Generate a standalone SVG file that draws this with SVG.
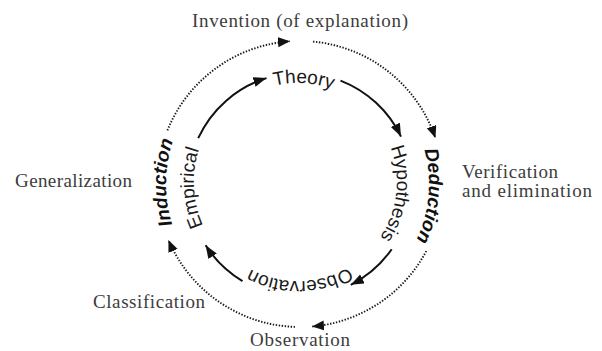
<svg xmlns="http://www.w3.org/2000/svg" width="602" height="351" viewBox="0 0 602 351">
<style>
.lbl{font-family:"Liberation Serif","Times New Roman",serif;font-size:19px;fill:#3c3c3c}
.inner{font-family:"Liberation Sans",Arial,sans-serif;font-size:19px;fill:#1a1a1a}
.outer{font-family:"Liberation Sans",Arial,sans-serif;font-size:19px;font-weight:bold;font-style:italic;fill:#111}
.solid{fill:none;stroke:#111;stroke-width:2}
.dot{fill:none;stroke:#1a1a1a;stroke-width:1.9;stroke-dasharray:1.4 1.6}
</style>
<defs>
<marker id="ah" markerUnits="userSpaceOnUse" markerWidth="14" markerHeight="12" refX="13" refY="5" orient="auto">
<path d="M0,0 L13,5 L0,10 Z" fill="#111"/>
</marker>
<marker id="ahd" markerUnits="userSpaceOnUse" markerWidth="14" markerHeight="12" refX="12" refY="5" orient="auto">
<path d="M0,0 L12,5 L0,10 Z" fill="#111"/>
</marker>
<path id="pTheory" d="M201.6,159.4 A99,99 0 0 1 396.3,170.3"/>
<path id="pHyp" d="M326.5,87.2 A99,99 0 0 1 303.7,280.8"/>
<path id="pObs" d="M395.8,197.5 A99,99 0 0 1 200.8,200.9"/>
<path id="pEmp" d="M285.7,285.3 A104,104 0 0 1 274.2,80.7"/>
<path id="pInd" d="M275.1,315.7 A134,134 0 0 1 278.3,51.8"/>
<path id="pDed" d="M334.0,59.6 A129,129 0 0 1 310.6,312.6"/>
</defs>

<g id="connectors">
<path class="solid" d="M198.2,138.2 A112,112 0 0 1 266.5,78.1" marker-end="url(#ah)"/>
<path class="solid" d="M340.5,80.6 A112,112 0 0 1 401.0,136.6" marker-end="url(#ah)"/>
<path class="solid" d="M391.7,249.2 A112,112 0 0 1 350.8,284.8" marker-end="url(#ah)"/>
<path class="solid" d="M242.5,281.1 A112,112 0 0 1 205.6,245.3" marker-end="url(#ah)"/>
<path class="dot" d="M167.4,130.4 A143,143 0 0 1 290.0,41.3" marker-end="url(#ahd)"/>
<path class="dot" d="M313.0,41.6 A143,143 0 0 1 435.4,137.9" marker-end="url(#ahd)"/>
<path class="dot" d="M426.3,251.1 A143,143 0 0 1 312.0,326.5" marker-end="url(#ahd)"/>
<path class="dot" d="M295.0,326.9 A143,143 0 0 1 168.4,239.9" marker-end="url(#ahd)"/>
</g>

<g id="theory"><text class="inner"><textPath href="#pTheory" startOffset="50%" text-anchor="middle">Theory</textPath></text></g>
<g id="hypothesis"><text class="inner"><textPath href="#pHyp" startOffset="50%" text-anchor="middle">Hypothesis</textPath></text></g>
<g id="observation-inner"><text class="inner"><textPath href="#pObs" startOffset="50%" text-anchor="middle">Observation</textPath></text></g>
<g id="empirical"><text class="inner"><textPath href="#pEmp" startOffset="50%" text-anchor="middle">Empirical</textPath></text></g>
<g id="induction"><text class="outer"><textPath href="#pInd" startOffset="50%" text-anchor="middle">Induction</textPath></text></g>
<g id="deduction"><text class="outer"><textPath href="#pDed" startOffset="50%" text-anchor="middle">Deduction</textPath></text></g>

<g id="invention"><text class="lbl" x="192" y="27" textLength="216" lengthAdjust="spacing">Invention (of explanation)</text></g>
<g id="generalization"><text class="lbl" x="15" y="187" textLength="117" lengthAdjust="spacing">Generalization</text></g>
<g id="verification"><text class="lbl" x="462" y="178" textLength="96" lengthAdjust="spacing">Verification</text><text class="lbl" x="462" y="197" textLength="130" lengthAdjust="spacing">and elimination</text></g>
<g id="classification"><text class="lbl" x="93" y="308" textLength="112" lengthAdjust="spacing">Classification</text></g>
<g id="observation-outer"><text class="lbl" x="250" y="346" textLength="100" lengthAdjust="spacing">Observation</text></g>
</svg>
